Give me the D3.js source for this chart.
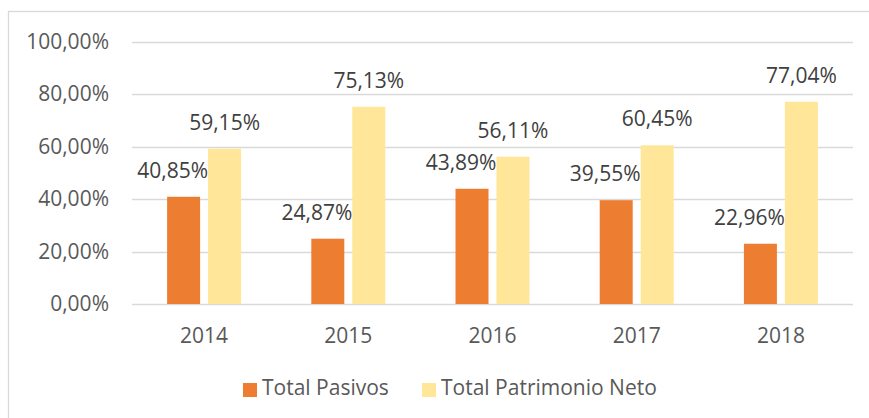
<!DOCTYPE html>
<html>
<head>
<meta charset="utf-8">
<script src="https://cdn.jsdelivr.net/npm/d3@7"></script>
<style>
  body { margin: 0; background: #fff; }
  svg text { font-family: "Open Sans", sans-serif; }
</style>
</head>
<body>
<div id="graph"></div>
<script>
// data
var years = ["2014", "2015", "2016", "2017", "2018"];
var pasivos = [0.4085, 0.2487, 0.4389, 0.3955, 0.2296];
var patrimonio = [0.5915, 0.7513, 0.5611, 0.6045, 0.7704];
var seriesNames = ["Total Pasivos", "Total Patrimonio Neto"];
var yTicks = [0, 0.2, 0.4, 0.6, 0.8, 1.0];

var colors = ["#ED7D31", "#FFE699"];
var svgWidth = 869, svgHeight = 418;

var fmt = function(v) { return (v * 100).toFixed(2).replace(".", ",") + "%"; };

var svg = d3.select("#graph").append("svg")
	.attr("width", svgWidth)
	.attr("height", svgHeight);

// chart border
svg.append("rect")
	.attr("x", 8.5).attr("y", 11.5)
	.attr("width", 880).attr("height", 440)
	.style("fill", "none")
	.style("stroke", "#d9d9d9")
	.style("stroke-width", 1.3);

var xScale = d3.scaleBand().domain(years).range([132, 853]).paddingInner(0.487).paddingOuter(0.2435);
var xSub = d3.scaleBand().domain([0, 1]).range([0, xScale.bandwidth()]).paddingInner(0.195);
var yScale = d3.scaleLinear().domain([0, 1]).range([304, 41.5]);

// gridlines
svg.append("g").selectAll("line")
	.data(yTicks).enter().append("line")
	.attr("x1", 132).attr("x2", 853)
	.attr("y1", function(d) { return Math.round(yScale(d)) + 0.5; })
	.attr("y2", function(d) { return Math.round(yScale(d)) + 0.5; })
	.style("stroke", "#d9d9d9")
	.style("stroke-width", 1.3);

// y tick labels
svg.append("g").selectAll("text")
	.data(yTicks).enter().append("text")
	.attr("x", 109)
	.attr("y", function(d) { return yScale(d) + 7; })
	.attr("text-anchor", "end")
	.style("font-size", "21px")
	.style("fill", "#595959")
	.text(fmt);

// x tick labels
svg.append("g").selectAll("text")
	.data(years).enter().append("text")
	.attr("x", function(d) { return xScale(d) + xScale.bandwidth() / 2; })
	.attr("y", 343)
	.attr("text-anchor", "middle")
	.style("font-size", "21px")
	.style("fill", "#595959")
	.text(function(d) { return d; });

var rows = [];
years.forEach(function(y, i) {
	rows.push({year: y, s: 0, value: pasivos[i], other: patrimonio[i]});
	rows.push({year: y, s: 1, value: patrimonio[i], other: pasivos[i]});
});

// bars
svg.append("g").selectAll("rect")
	.data(rows).enter().append("rect")
	.attr("x", function(d) { return xScale(d.year) + xSub(d.s); })
	.attr("y", function(d) { return yScale(d.value); })
	.attr("width", xSub.bandwidth())
	.attr("height", function(d) { return yScale(0) - yScale(d.value); })
	.style("fill", function(d) { return colors[d.s]; });

// data labels, orange ones pushed left when they would run into the yellow bar
svg.append("g").selectAll("text")
	.data(rows).enter().append("text")
	.attr("x", function(d) {
		var cx = xScale(d.year) + xSub(d.s) + xSub.bandwidth() / 2;
		if (d.s === 0 && yScale(d.other) < yScale(d.value) - 19) return xScale(d.year) + xSub(1);
		return cx;
	})
	.attr("y", function(d) { return yScale(d.value) - 19; })
	.attr("text-anchor", function(d) {
		return (d.s === 0 && yScale(d.other) < yScale(d.value) - 19) ? "end" : "middle";
	})
	.style("font-size", "21px")
	.style("fill", "#404040")
	.text(function(d) { return fmt(d.value); });

// legend
var legendX = [243, 422];
var legend = svg.append("g").selectAll("g")
	.data(seriesNames).enter().append("g")
	.attr("transform", function(d, i) { return "translate(" + legendX[i] + ",383)"; });
legend.append("rect")
	.attr("width", 14).attr("height", 14)
	.style("fill", function(d, i) { return colors[i]; });
legend.append("text")
	.attr("x", 19).attr("y", 12)
	.style("font-size", "21px")
	.style("fill", "#595959")
	.text(function(d) { return d; });
</script>
</body>
</html>
